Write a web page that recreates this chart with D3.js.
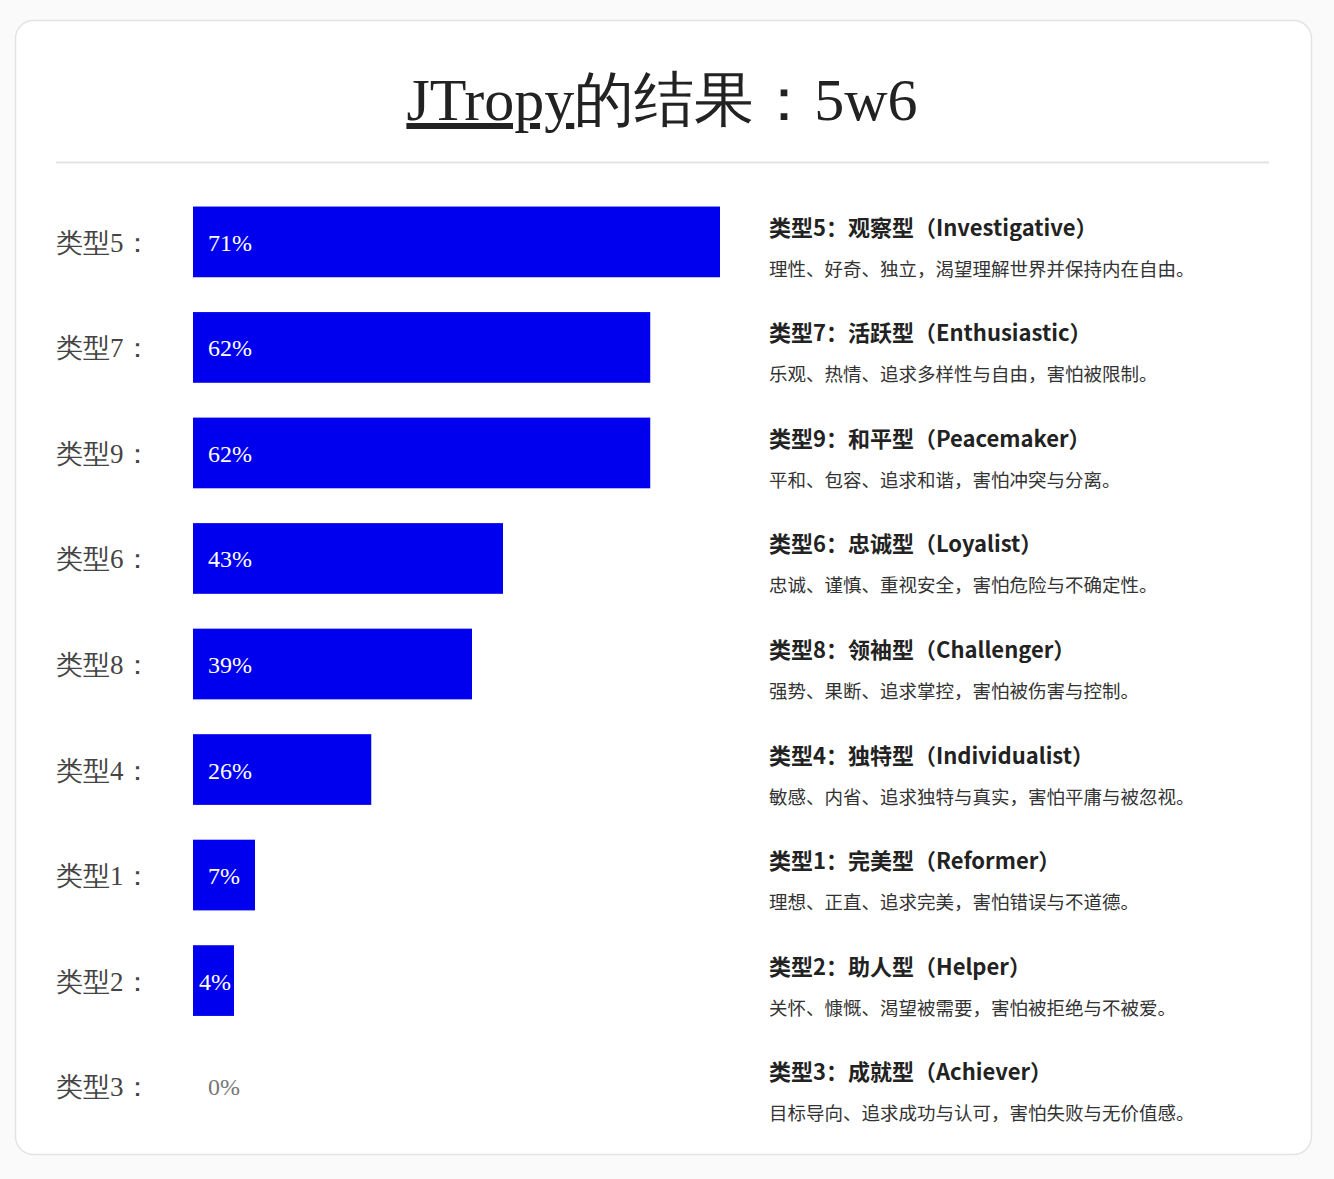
<!DOCTYPE html>
<html><head><meta charset="utf-8">
<script src="https://cdn.jsdelivr.net/npm/d3@7"></script>
<style>body{margin:0;background:#fafafa;}</style>
</head><body>
<svg id="c" width="1334" height="1179"></svg>
<script>
const categories = ["类型5","类型7","类型9","类型6","类型8","类型4","类型1","类型2","类型3"];
const values = [71,62,62,43,39,26,7,4,0];
const titles = ["类型5：观察型（Investigative）","类型7：活跃型（Enthusiastic）","类型9：和平型（Peacemaker）","类型6：忠诚型（Loyalist）","类型8：领袖型（Challenger）","类型4：独特型（Individualist）","类型1：完美型（Reformer）","类型2：助人型（Helper）","类型3：成就型（Achiever）"];
const descs = ["理性、好奇、独立，渴望理解世界并保持内在自由。","乐观、热情、追求多样性与自由，害怕被限制。","平和、包容、追求和谐，害怕冲突与分离。","忠诚、谨慎、重视安全，害怕危险与不确定性。","强势、果断、追求掌控，害怕被伤害与控制。","敏感、内省、追求独特与真实，害怕平庸与被忽视。","理想、正直、追求完美，害怕错误与不道德。","关怀、慷慨、渴望被需要，害怕被拒绝与不被爱。","目标导向、追求成功与认可，害怕失败与无价值感。"];

const svg = d3.select("#c");
svg.append("rect").attr("x",15.5).attr("y",20.5).attr("width",1296).attr("height",1134).attr("rx",18)
  .attr("fill","#fff").attr("stroke","#e3e3e3").attr("stroke-width",1.5);
const t = svg.append("text").attr("x",662).attr("y",120).attr("text-anchor","middle")
  .attr("font-family","'Liberation Serif','DejaVu Serif',serif").attr("font-size",60).attr("fill","#222");
t.append("tspan").attr("text-decoration","underline").text("JTropy");
t.append("tspan").text("的结果：5w6");
svg.append("line").attr("x1",56).attr("x2",1269).attr("y1",162.5).attr("y2",162.5).attr("stroke","#e3e3e3").attr("stroke-width",2);

const y = d3.scaleBand().domain(categories).range([196,1132]).paddingInner(0.33).paddingOuter(0.1);
const x = d3.scaleLinear().domain([3,71]).range([0,527]);
const g = svg.append("g");
const rows = g.selectAll("g").data(categories.map((c,i)=>({c,v:values[i],t:titles[i],d:descs[i]}))).join("g")
  .attr("transform",d=>`translate(0,${y(d.c)+y.bandwidth()/2})`);
rows.append("text").attr("x",56).attr("y",10).attr("font-family","'Liberation Serif',serif").attr("font-size",27)
  .attr("fill","#444").text(d=>d.c+"：");
rows.filter(d=>d.v>0).append("rect").attr("x",193).attr("y",-y.bandwidth()/2).attr("height",y.bandwidth())
  .attr("width",d=>Math.max(x(d.v), d.v<10 ? (d.v<5?41:62) : 0)).attr("fill","#0000ee");
rows.append("text").attr("x",d=>d.v<5&&d.v>0?199:208).attr("y",9).attr("font-family","'Liberation Serif',serif").attr("font-size",24)
  .attr("fill",d=>d.v>0?"#fff":"#777").text(d=>d.v+"%");
rows.append("text").attr("x",769).attr("y",-6).attr("font-family","'Noto Sans CJK SC','Noto Sans',sans-serif")
  .attr("font-weight","bold").attr("font-size",22).attr("fill","#222").text(d=>d.t);
rows.append("text").attr("x",769).attr("y",34).attr("font-family","'Noto Sans CJK SC',sans-serif")
  .attr("font-size",18.5).attr("fill","#333").text(d=>d.d);
</script>
</body></html>
